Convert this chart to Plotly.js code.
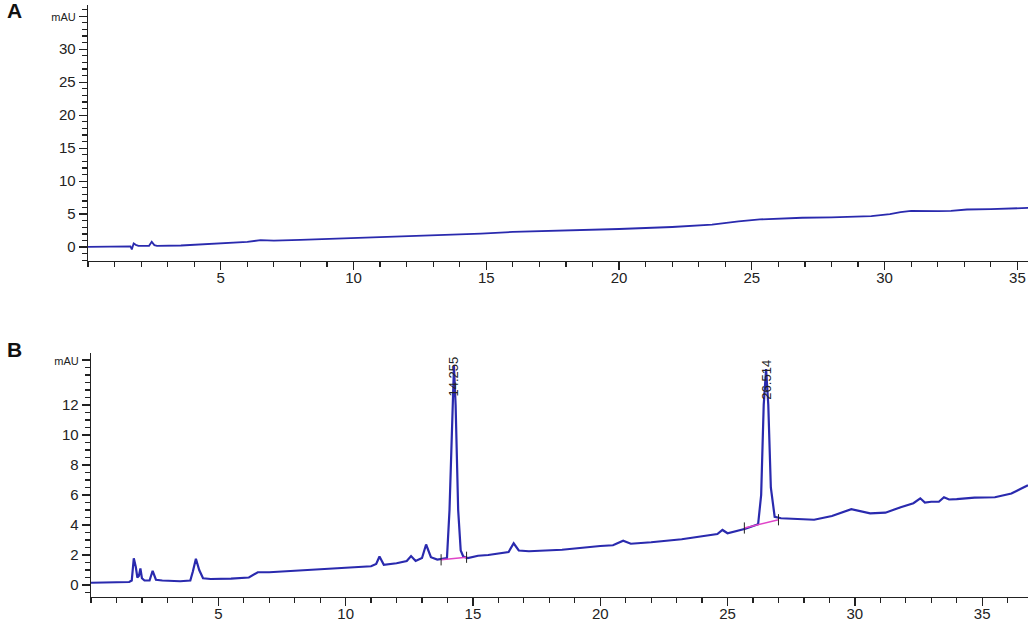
<!DOCTYPE html>
<html>
<head>
<meta charset="utf-8">
<script src="https://cdn.plot.ly/plotly-3.0.1.min.js"></script>
<style>html,body{margin:0;padding:0;background:#fff;}#chart{width:1031px;height:622px;}</style>
</head>
<body>
<div id="chart"></div>
<script>
// Panel A: blank chromatogram (time in min, signal in mAU)
const timeA = [0, 1.5, 1.6, 1.65, 1.72, 1.8, 1.9, 2.3, 2.4, 2.5, 2.6, 3.5, 5, 6.0, 6.5, 7.0, 8, 10, 12, 13.5, 14.8, 16, 18, 20, 22, 23.5, 24.5, 25.3, 26.9, 28, 29.5, 30.2, 30.6, 31.0, 32.0, 32.5, 33.1, 34, 35.4];
const signalA = [0.05, 0.05, 0.1, -0.35, 0.55, 0.35, 0.2, 0.2, 0.8, 0.3, 0.2, 0.25, 0.6, 0.8, 1.05, 1.0, 1.1, 1.35, 1.6, 1.85, 2.05, 2.3, 2.5, 2.75, 3.05, 3.4, 3.9, 4.2, 4.45, 4.5, 4.7, 5.0, 5.3, 5.5, 5.45, 5.5, 5.7, 5.75, 5.95];

// Panel B: sample chromatogram
const timeB = [0, 1.5, 1.6, 1.68, 1.76, 1.82, 1.88, 1.94, 2.0, 2.1, 2.3, 2.42, 2.55, 2.8, 3.5, 3.9, 4.0, 4.12, 4.25, 4.4, 4.7, 5.5, 6.2, 6.55, 7, 8, 9, 10, 11, 11.2, 11.33, 11.5, 12, 12.4, 12.57, 12.75, 13.0, 13.16, 13.35, 13.6, 13.98, 14.08, 14.2, 14.255, 14.32, 14.42, 14.52, 14.62, 14.8, 15.2, 15.6, 16.0, 16.4, 16.6, 16.8, 17.2, 18.5, 20, 20.5, 20.9, 21.2, 22, 23.2, 24, 24.6, 24.8, 25.0, 25.7, 26.2, 26.32, 26.42, 26.514, 26.6, 26.7, 26.85, 27.1, 28.4, 29.1, 29.86, 30.6, 31.2, 31.8, 32.3, 32.57, 32.75, 33.0, 33.3, 33.5, 33.7, 34.0, 34.7, 35.5, 36.15, 36.5, 36.8];
const signalB = [0.15, 0.2, 0.3, 1.78, 1.2, 0.5, 0.6, 1.1, 0.45, 0.3, 0.3, 0.95, 0.35, 0.3, 0.25, 0.3, 0.9, 1.75, 1.0, 0.45, 0.4, 0.42, 0.5, 0.85, 0.85, 0.95, 1.0, 1.15, 1.25, 1.4, 1.9, 1.35, 1.45, 1.6, 1.93, 1.6, 1.8, 2.7, 1.85, 1.7, 1.8, 5.0, 12.5, 14.6, 12.0, 5.0, 2.3, 1.9, 1.8, 1.95, 2.0, 2.1, 2.2, 2.78, 2.3, 2.25, 2.35, 2.6, 2.65, 2.95, 2.75, 2.85, 3.05, 3.25, 3.4, 3.67, 3.45, 3.75, 4.05, 6.0, 12.0, 14.4, 12.0, 6.5, 4.55, 4.45, 4.35, 4.6, 5.05, 4.78, 4.82, 5.18, 5.45, 5.78, 5.5, 5.55, 5.55, 5.85, 5.7, 5.72, 5.82, 5.85, 6.1, 6.4, 6.65];

// Integration baselines (start/end of each integrated peak)
const base1Time = [13.75, 14.75];
const base1Signal = [1.68, 1.85];
const base2Time = [25.66, 27.0];
const base2Signal = [3.8, 4.35];

// Peak retention-time labels
const peakTimes = [14.255, 26.514];
const peakLabels = ["14.255", "26.514"];
const peakLabelLevel = [13.9, 13.7];

// Tick labels
const yTicksA = [0, 5, 10, 15, 20, 25, 30, 35];
const yTextA = ["0", "5", "10", "15", "20", "25", "30", "<span style='font-size:11px'>mAU</span>"];
const yTicksB = [0, 2, 4, 6, 8, 10, 12, 15];
const yTextB = ["0", "2", "4", "6", "8", "10", "12", "<span style='font-size:11px'>mAU</span>"];
const xTicks = [5, 10, 15, 20, 25, 30, 35];

const lineBlue = '#2a2aae';
const pink = '#e044c8';

const traces = [
  {x: timeA, y: signalA, xaxis: 'x', yaxis: 'y', mode: 'lines', line: {color: lineBlue, width: 1.8}, hoverinfo: 'skip'},
  {x: timeB, y: signalB, xaxis: 'x2', yaxis: 'y2', mode: 'lines', line: {color: lineBlue, width: 2.2}, hoverinfo: 'skip'},
  {x: base1Time, y: base1Signal, xaxis: 'x2', yaxis: 'y2', mode: 'lines+markers', line: {color: pink, width: 1.5},
   marker: {symbol: 'line-ns', size: 8, line: {color: '#222', width: 1}}, hoverinfo: 'skip'},
  {x: base2Time, y: base2Signal, xaxis: 'x2', yaxis: 'y2', mode: 'lines+markers', line: {color: pink, width: 1.5},
   marker: {symbol: 'line-ns', size: 8, line: {color: '#222', width: 1}}, hoverinfo: 'skip'}
];

const tickFont = {family: 'Liberation Sans, Arial, sans-serif', size: 15, color: '#222'};
function xAxis(range, domain, anchor) {
  return {range: range, domain: domain, anchor: anchor, showgrid: false, zeroline: false, showline: true,
    linecolor: '#222', linewidth: 1.3, ticks: 'outside', ticklen: 8, tickwidth: 1.3, tickcolor: '#222',
    tickmode: 'array', tickvals: xTicks, tickfont: tickFont, ticklabelstandoff: -5,
    minor: {ticks: 'outside', dtick: 1, tick0: 0, ticklen: 5, tickwidth: 1.2, tickcolor: '#222'}};
}
function yAxis(range, domain, anchor, vals, text, minorStep) {
  return {range: range, domain: domain, anchor: anchor, showgrid: false, zeroline: false, showline: true,
    linecolor: '#222', linewidth: 1.3, ticks: 'outside', ticklen: 8, tickwidth: 1.3, tickcolor: '#222',
    tickmode: 'array', tickvals: vals, ticktext: text, tickfont: tickFont,
    minor: {ticks: 'outside', dtick: minorStep, tick0: 0, ticklen: 5, tickwidth: 1.2, tickcolor: '#222'}};
}

const annotations = [
  {text: '<b>A</b>', xref: 'paper', yref: 'paper', x: -0.078, y: 0.99, xanchor: 'center', yanchor: 'middle', showarrow: false,
   font: {family: 'Liberation Sans, Arial, sans-serif', size: 21, color: '#111'}},
  {text: '<b>B</b>', xref: 'paper', yref: 'paper', x: -0.078, y: 0.418, xanchor: 'center', yanchor: 'middle', showarrow: false,
   font: {family: 'Liberation Sans, Arial, sans-serif', size: 21, color: '#111'}}
];
peakTimes.forEach((t, i) => {
  annotations.push({text: peakLabels[i], xref: 'x2', yref: 'y2', x: t, y: peakLabelLevel[i], textangle: -90,
    xanchor: 'center', yanchor: 'middle', showarrow: false,
    font: {family: 'Liberation Sans, Arial, sans-serif', size: 13, color: '#222'}});
});

const layout = {
  width: 1031, height: 622,
  margin: {l: 88, r: 3, t: 5, b: 25},
  paper_bgcolor: '#fff', plot_bgcolor: '#fff',
  showlegend: false,
  xaxis: xAxis([0, 35.4], [0, 1], 'y'),
  yaxis: yAxis([-2.1, 36.7], [0.5676, 1], 'x', yTicksA, yTextA, 1),
  xaxis2: xAxis([0, 36.8], [0.0032, 1], 'y2'),
  yaxis2: yAxis([-0.8, 15.47], [0, 0.4122], 'x2', yTicksB, yTextB, 0.5),
  annotations: annotations
};

Plotly.newPlot('chart', traces, layout, {displayModeBar: false, staticPlot: true});
</script>
</body>
</html>
